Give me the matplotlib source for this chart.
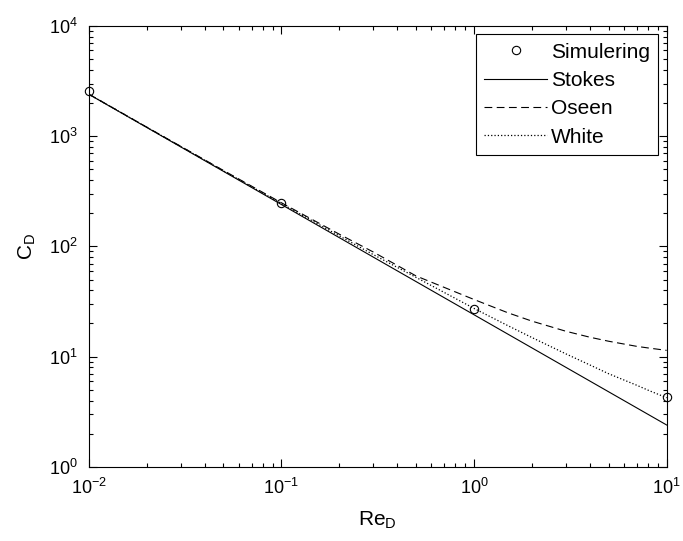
import numpy as np
import matplotlib
matplotlib.use('Agg')
import matplotlib.pyplot as plt

plt.rcParams['font.family'] = ['Liberation Sans', 'DejaVu Sans']
plt.rcParams['mathtext.fontset'] = 'custom'
plt.rcParams['mathtext.rm'] = 'Liberation Sans'
plt.rcParams['mathtext.it'] = 'Liberation Sans'

# simuleringsdata
re_sim = [0.01, 0.1, 1.0, 10.0]
cd_sim = [2560, 250, 27, 4.3]

# Stokes (rak linje i log-log)
re_stokes = [0.01, 10.0]
cd_stokes = [2400, 2.4]

# Oseen / White, avlästa punkter
re_curve = [0.01, 0.02, 0.05, 0.1, 0.2, 0.3, 0.5, 1.0, 1.5, 2.0, 3.0, 4.0, 5.0, 7.0, 8.0, 10.0]
cd_oseen = [2409, 1209, 489, 249, 129, 89, 54, 33, 25, 21, 17, 15, 13.8, 12.4, 12.0, 11.4]
cd_white = [2406, 1206, 485, 245, 124.5, 84.3, 52.4, 27.4, 19.1, 14.9, 10.6, 8.4, 7.0, 5.5, 4.97, 4.24]

fig = plt.figure(figsize=(6.83, 5.41), dpi=100)
ax = fig.add_axes([0.130, 0.137, 0.846, 0.815])

ax.loglog(re_sim, cd_sim, 'o', color='k', mfc='none', ms=6, mew=0.8,
          clip_on=False, label='Simulering', zorder=5)
ax.loglog(re_stokes, cd_stokes, '-', color='k', lw=0.8, label='Stokes')
ax.loglog(re_curve, cd_oseen, color='k', lw=0.8, dashes=(7, 4), label='Oseen')
ax.loglog(re_curve, cd_white, ':', color='k', lw=0.9, label='White')

ax.set_xlim(1e-2, 1e1)
ax.set_ylim(1e0, 1e4)
ax.set_xticks([1e-2, 1e-1, 1e0, 1e1])
ax.set_yticks([1e0, 1e1, 1e2, 1e3, 1e4])
ax.set_xticklabels([r'$10^{-2}$', r'$10^{-1}$', r'$10^{0}$', r'$10^{1}$'])
ax.set_yticklabels([r'$10^{0}$', r'$10^{1}$', r'$10^{2}$', r'$10^{3}$', r'$10^{4}$'])

ax.tick_params(which='both', direction='in', top=True, right=True, labelsize=13)
ax.tick_params(which='major', length=6, width=0.8, pad=8)
ax.tick_params(which='minor', length=3, width=0.8)
for s in ax.spines.values():
    s.set_linewidth(0.8)

ax.set_xlabel(r'$\mathrm{Re_D}$', fontsize=15, labelpad=8)
ax.set_ylabel(r'$\mathrm{C_D}$', fontsize=15, labelpad=8)

leg = ax.legend(loc='upper right', fontsize=15, fancybox=False, edgecolor='k',
                framealpha=1, handlelength=3.0, labelspacing=0.45,
                borderaxespad=0.4, handletextpad=0.2, borderpad=0.4)
leg.get_frame().set_linewidth(0.8)

fig.savefig('out.png', dpi=100)
